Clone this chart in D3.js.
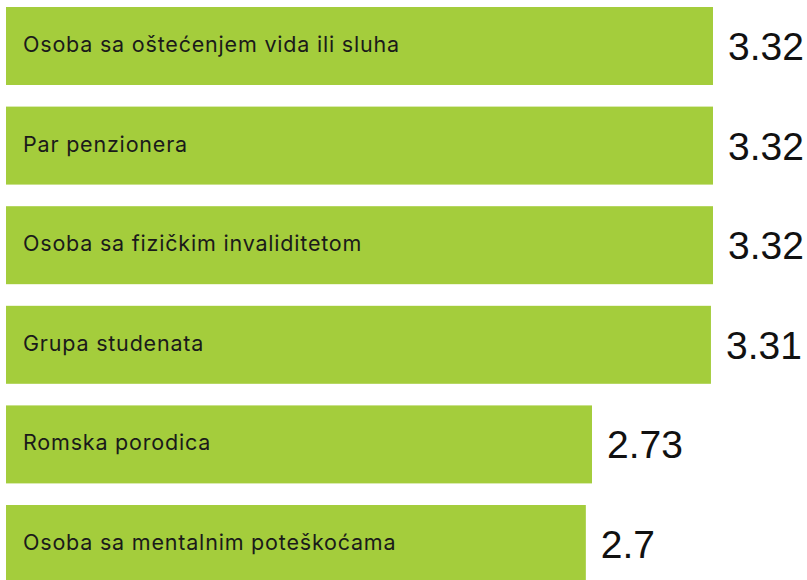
<!DOCTYPE html>
<html>
<head>
<meta charset="utf-8">
<script src="https://cdn.jsdelivr.net/npm/d3@7"></script>
<style>
  html, body { margin: 0; padding: 0; background: #fff; }
  svg { display: block; }
</style>
</head>
<body>
<svg id="chart" width="807" height="580"></svg>
<script>
// categories, top to bottom
const categories = [
    "Osoba sa oštećenjem vida ili sluha",
    "Par penzionera",
    "Osoba sa fizičkim invaliditetom",
    "Grupa studenata",
    "Romska porodica",
    "Osoba sa mentalnim poteškoćama"
];
const values = [3.32, 3.32, 3.32, 3.31, 2.73, 2.7];
const valueLabels = ["3.32", "3.32", "3.32", "3.31", "2.73", "2.7"];

const svg = d3.select("#chart");
const barColor = "#a4cd3c";

const x = d3.scaleLinear().domain([-0.127, 3.32]).range([6, 713]);
const y = d3.scaleBand().domain(categories).range([7, 583]).paddingInner(0.217);

const rows = svg.selectAll("g.row")
    .data(categories.map((c, i) => ({ cat: c, v: values[i], label: valueLabels[i] })))
    .join("g")
    .attr("class", "row")
    .attr("transform", d => `translate(0,${y(d.cat)})`);

rows.append("rect")
    .attr("x", x(-0.127))
    .attr("width", d => x(d.v) - x(-0.127))
    .attr("height", y.bandwidth())
    .attr("fill", barColor);

// category name inside the bar
rows.append("text")
    .attr("x", 23)
    .attr("y", y.bandwidth() / 2 + 6)
    .style("font-family", "Inter, 'Noto Sans', sans-serif")
    .style("font-size", "21.5px")
    .style("letter-spacing", "0.8px")
    .style("fill", "#1a1a1a")
    .text(d => d.cat);

// value to the right of the bar
rows.append("text")
    .attr("x", d => x(d.v) + 15)
    .attr("y", y.bandwidth() / 2 + 14)
    .style("font-family", "'Liberation Sans', Arial, sans-serif")
    .style("font-size", "39px")
    .style("fill", "#111")
    .text(d => d.label);
</script>
</body>
</html>
